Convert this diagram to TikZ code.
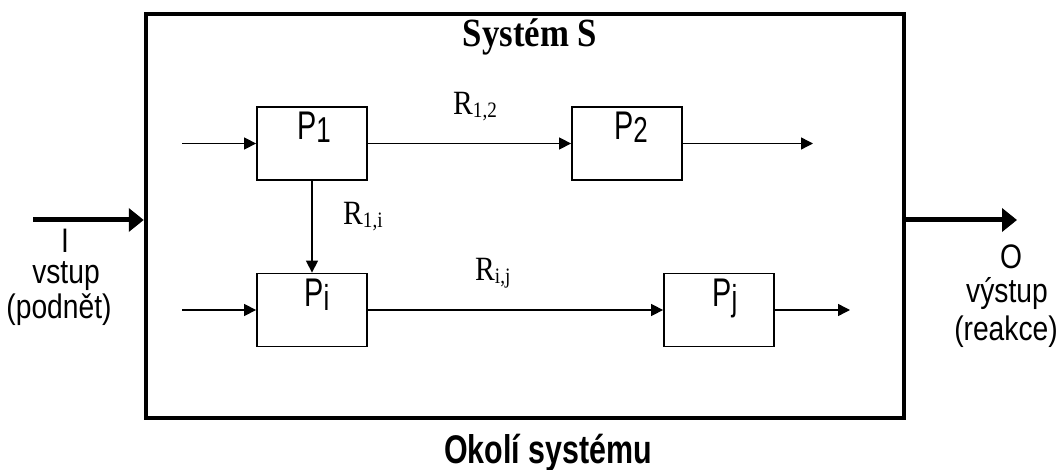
\documentclass[tikz,border=0pt]{standalone}
\usepackage{fontspec}
\setmainfont{Liberation Serif}
\newfontfamily\sansc[FakeStretch=0.72]{Liberation Sans}
\newfontfamily\sansio[FakeStretch=0.83]{Liberation Sans}
\newfontfamily\sanstitle[FakeStretch=0.76]{Liberation Sans}
\newfontfamily\serifc[FakeStretch=0.87]{Liberation Serif}
\usetikzlibrary{arrows.meta}
\newcommand{\plfont}{\sansc\fontsize{40}{40}\selectfont}
\newcommand{\rlfont}{\serifc\fontsize{34}{34}\selectfont}
\newcommand{\iofont}{\sansio\fontsize{34}{34}\selectfont}
\newcommand{\psub}[1]{\raisebox{-3pt}{\fontsize{36}{36}\selectfont#1}}
\newcommand{\rsub}[1]{\raisebox{-3pt}{\fontsize{22}{22}\selectfont#1}}

\begin{document}
\begin{tikzpicture}[x=1pt,y=-1pt,
      sysbox/.style={draw,line width=4.5pt,minimum width=758pt,minimum height=404pt},
      proc/.style={draw,line width=1.8pt,minimum width=110pt,minimum height=73pt},
      plabel/.style={font=\plfont,anchor=base,inner sep=0pt},
      rlabel/.style={font=\rlfont,anchor=base west,inner sep=0pt},
      iolabel/.style={font=\iofont,anchor=base,inner sep=0pt},
      flow/.style={-{Triangle[length=12pt,width=12pt]},line width=1.4pt},
      bigflow/.style={-{Triangle[length=15pt,width=23pt]},line width=5pt}]
      \useasboundingbox (0,0) rectangle (1060,470);
      \node[sysbox] (sys) at (525,216) {};
      \node[font=\serifc\bfseries\fontsize{40}{40}\selectfont,anchor=base] (systitle) at (530,47) {Systém S};
      \node[font=\sanstitle\bfseries\fontsize{40}{40}\selectfont,anchor=base] (envtitle) at (548,463) {Okolí systému};
      % processes
      \node[proc] (p1) at (312,143.5) {};
      \node[proc] (p2) at (627,143.5) {};
      \node[proc] (pi) at (312,310) {};
      \node[proc] (pj) at (719,310) {};
      \node[plabel] (p1t) at (314,140) {P\psub{1}};
      \node[plabel] (p2t) at (631,140) {P\psub{2}};
      \node[plabel] (pit) at (317,307) {P\psub{i}};
      \node[plabel] (pjt) at (725,307) {P\psub{j}};
      % relations
      \node[rlabel] (r12) at (453,115) {R\rsub{1,2}};
      \node[rlabel] (r1i) at (343,225) {R\rsub{1,i}};
      \node[rlabel] (rij) at (475,281) {R\rsub{i,j}};
      \coordinate (p1in) at (182,143.5);
      \coordinate (piin) at (182,310);
      \coordinate (p2out) at (813,143.5);
      \coordinate (pjout) at (850,310);
      \draw[flow] (p1in)--(p1);
      \draw[flow] (piin)--(pi);
      \draw[flow] (p1)--(p2);
      \draw[flow] (p1)--(pi);
      \draw[flow] (pi)--(pj);
      \draw[flow] (p2)--(p2out);
      \draw[flow] (pj)--(pjout);
      % input and output
      \coordinate (envin) at (33,220);
      \coordinate (envout) at (1017,220);
      \draw[bigflow] (envin)--(envin -| sys.west);
      \draw[bigflow] (envout -| sys.east)--(envout);
      \node[iolabel] (inI) at (65,253) {I};
      \node[iolabel] (inv) at (66,284) {vstup};
      \node[iolabel] (inp) at (59,318) {(podnět)};
      \node[iolabel] (outO) at (1011,269) {O};
      \node[iolabel] (outv) at (1007,302) {výstup};
      \node[iolabel] (outr) at (1006,341) {(reakce)};
    \end{tikzpicture}
\end{document}
